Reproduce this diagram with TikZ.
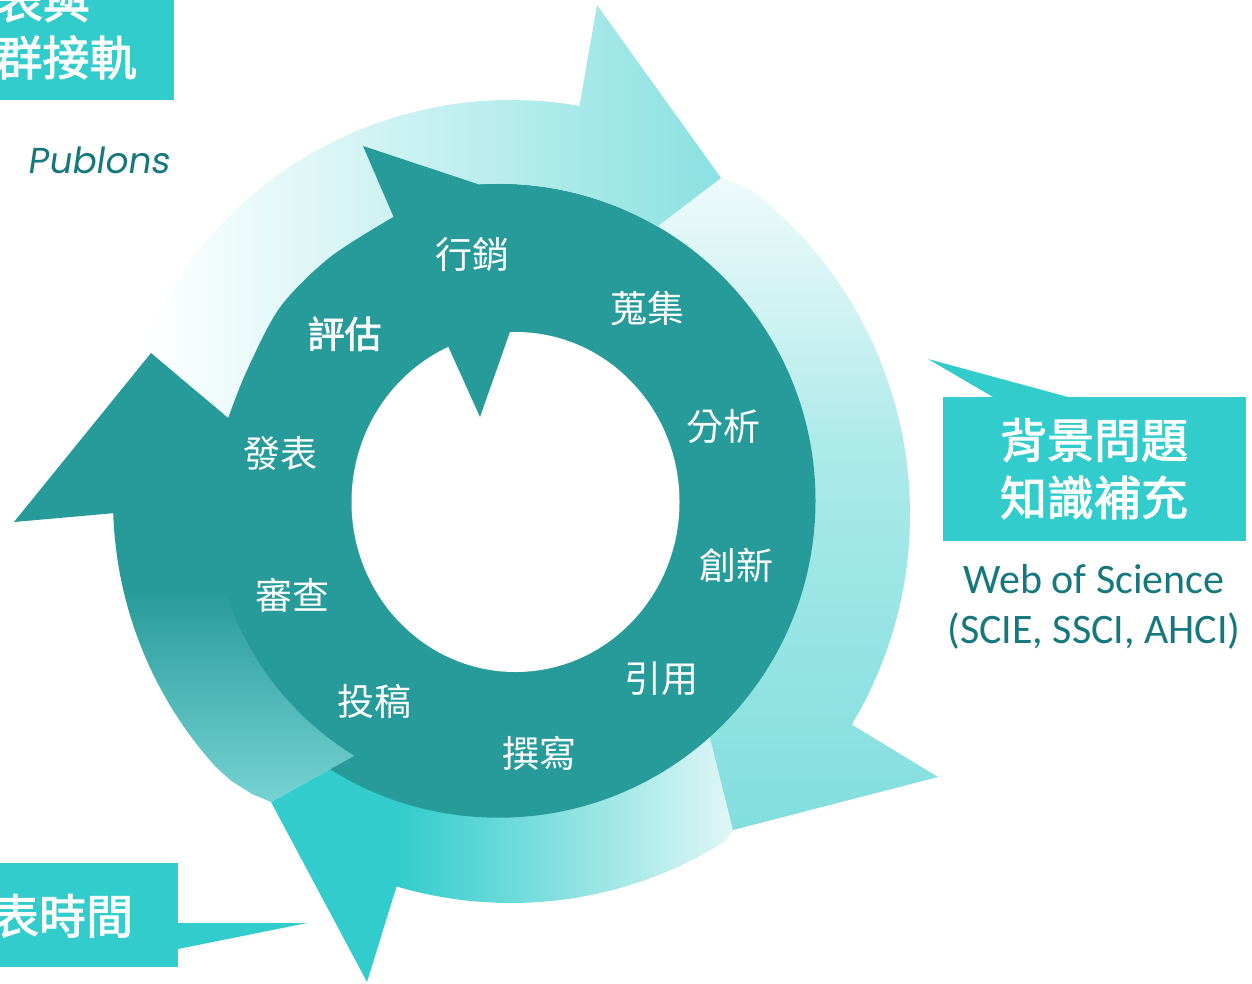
\documentclass[tikz,border=0pt]{standalone}
\usepackage{fontspec}
\usetikzlibrary{calc}
\newfontfamily\cjk{Noto Sans CJK TC}
\newfontfamily\cjkbold[FakeBold=2]{Noto Sans CJK TC}
\newfontfamily\pubfont[FakeSlant=0.15]{Poppins}
\newfontfamily\calib{Carlito}
\definecolor{darkteal}{RGB}{39,155,154}
\definecolor{boxcyan}{RGB}{51,204,204}
\definecolor{textteal}{RGB}{22,120,125}
\definecolor{tA}{RGB}{138,225,225}
\definecolor{rA}{RGB}{240,251,251}
\definecolor{rB}{RGB}{200,240,240}
\definecolor{rC}{RGB}{174,234,234}
\definecolor{rD}{RGB}{154,229,229}
\definecolor{rE}{RGB}{130,222,222}
\definecolor{bA}{RGB}{51,204,204}
\definecolor{bB}{RGB}{228,247,247}
\definecolor{lA}{RGB}{122,212,212}
\pgfdeclarehorizontalshading{topsh}{100bp}{color(0bp)=(white); color(25bp)=(white); color(75bp)=(tA); color(100bp)=(tA)}
\pgfdeclareverticalshading{rightsh}{100bp}{color(0bp)=(rE); color(25bp)=(rE); color(42.4bp)=(rD); color(54.5bp)=(rC); color(61.7bp)=(rB); color(75bp)=(rA); color(100bp)=(rA)}
\pgfdeclarehorizontalshading{botsh}{100bp}{color(0bp)=(bA); color(38.8bp)=(bA); color(75bp)=(bB); color(100bp)=(bB)}
\pgfdeclareverticalshading{leftsh}{100bp}{color(0bp)=(lA); color(25bp)=(lA); color(48.4bp)=(darkteal); color(100bp)=(darkteal)}
\begin{document}
\begin{tikzpicture}[x=1pt,y=-1pt,
  lbl/.style={text=white, inner sep=0pt, font=\cjk\fontsize{37}{37}\selectfont},
  lblb/.style={text=white, inner sep=0pt, font=\cjkbold\fontsize{37}{37}\selectfont},
  boxtxt/.style={text=white, inner sep=0pt, font=\cjkbold\fontsize{47}{47}\selectfont},
  wos/.style={text=textteal, inner sep=0pt, anchor=base, font=\calib\fontsize{42}{42}\selectfont},
  darkfill/.style={fill=darkteal},
  cyanfill/.style={fill=boxcyan}]
\useasboundingbox (0,0) rectangle (1252,983);
\clip (0,0) rectangle (1252,983);
\fill[white] (0,0) rectangle (1252,983);
% centres
\coordinate (O) at (511,500);
\coordinate (Cr) at (500,514);
\coordinate (D) at (498.5,500.7);
\coordinate (H) at (515.5,502);
% tips and wings
\coordinate (tT) at (721,178);
\coordinate (tL) at (151,353);
\coordinate (tB) at (271,802);
\coordinate (tR) at (733,830);
\coordinate (wT) at (597,5);
\coordinate (wL) at (14,522);
\coordinate (wB) at (367,982);
\coordinate (wR) at (938,777);
% bottom arrow
\begin{scope}
\clip (tR) -- ($(O)+(58:403)$) arc[start angle=58, end angle=106.5, radius=403] -- (wB) -- (tB) -- (489.5,680.6) -- (672.4,587.4) -- cycle;
\shade[shading=botsh] (270,0) rectangle (740,983);
\end{scope}
% right arrow
\begin{scope}
\clip (tT) -- ($(Cr)+(-54:407)$) -- ($(Cr)+(-52:410)$) arc[start angle=-52, end angle=30.9, radius=410] -- (wR) -- (tR) -- (672.4,587.4) -- (522.1,329.6) -- cycle;
\shade[shading=rightsh] (500,170) rectangle (960,830);
\end{scope}
% dark disk
\fill[darkfill] (D) circle[radius=317];
% top arrow
\begin{scope}
\clip (tL) -- ($(O)+(205:396)$) -- ($(O)+(208:400)$) arc[start angle=208, end angle=279.86, radius=400] -- (wT) -- (tT) -- ($(D)+(-59.93:317)$) arc[start angle=-59.93, end angle=-93.5, radius=317] -- plot[smooth] coordinates {(393,217) (330,257) (280,307) (247,370) (228,418)} -- cycle;
\shade[shading=topsh] (148,0) rectangle (724,983);
\end{scope}
% left arrow
\begin{scope}
\clip (tB) -- ($(O)+(131.5:392)$) -- ($(O)+(135:396.5)$) -- ($(O)+(138:398)$) arc[start angle=138, end angle=178.1, radius=398] -- (wL) -- (tL) -- (228,418) -- ($(O)+(196:300)$) arc[start angle=196, end angle=121.5, radius=300] -- cycle;
\shade[shading=leftsh] (0,340) rectangle (520,810);
\end{scope}
% dark inner arrow head wing
\fill[darkfill] (363,146) -- (482,185.5) -- (505,260) -- (429.4,300) -- cycle;
% hole
\fill[white] (H) ellipse[x radius=164, y radius=170];
% notch
\fill[darkfill] (445,300) -- (448.3,346.7) -- (480,417) -- (510,331.7) -- (512,300) -- cycle;
% ring labels
\node[lbl] (l1) at (472.8,254.7) {行銷};
\node[lbl] (l2) at (647.3,309) {蒐集};
\node[lbl] (l3) at (723.6,427) {分析};
\node[lbl] (l4) at (736.6,564.8) {創新};
\node[lbl] (l5) at (661,678.4) {引用};
\node[lbl] (l6) at (539.8,753) {撰寫};
\node[lbl] (l7) at (374,701.2) {投稿};
\node[lbl] (l8) at (292.7,595.4) {審查};
\node[lbl] (l9) at (280.9,453.2) {發表};
\node[lblb] (l10) at (344.6,333.8) {評估};
% right callout
\fill[cyanfill] (928,359) -- (1068,397) -- (993,397) -- cycle;
\fill[cyanfill] (943,397) rectangle (1246,541);
\node[boxtxt] (r1) at (1094,440) {背景問題};
\node[boxtxt] (r2) at (1094,497.5) {知識補充};
\node[wos] (w1) at (1094,593) {Web of Science};
\node[wos] (w2) at (1094,643.5) {(SCIE, SSCI, AHCI)};
% top-left callout
\fill[cyanfill] (-10,-10) rectangle (174,100);
\node[boxtxt] (tl1) at (43,0.5) {表與};
\node[boxtxt] (tl2) at (66,57.5) {群接軌};
\node[text=textteal, inner sep=0pt, anchor=base, font=\pubfont\fontsize{36}{36}\selectfont] (pub) at (98.5,173.3) {Publons};
% bottom-left callout
\fill[cyanfill] (-10,863) rectangle (178,967);
\fill[cyanfill] (178,923) -- (307,923) -- (178,949) -- cycle;
\node[boxtxt] (bl1) at (62.5,915.8) {表時間};
\end{tikzpicture}
\end{document}
